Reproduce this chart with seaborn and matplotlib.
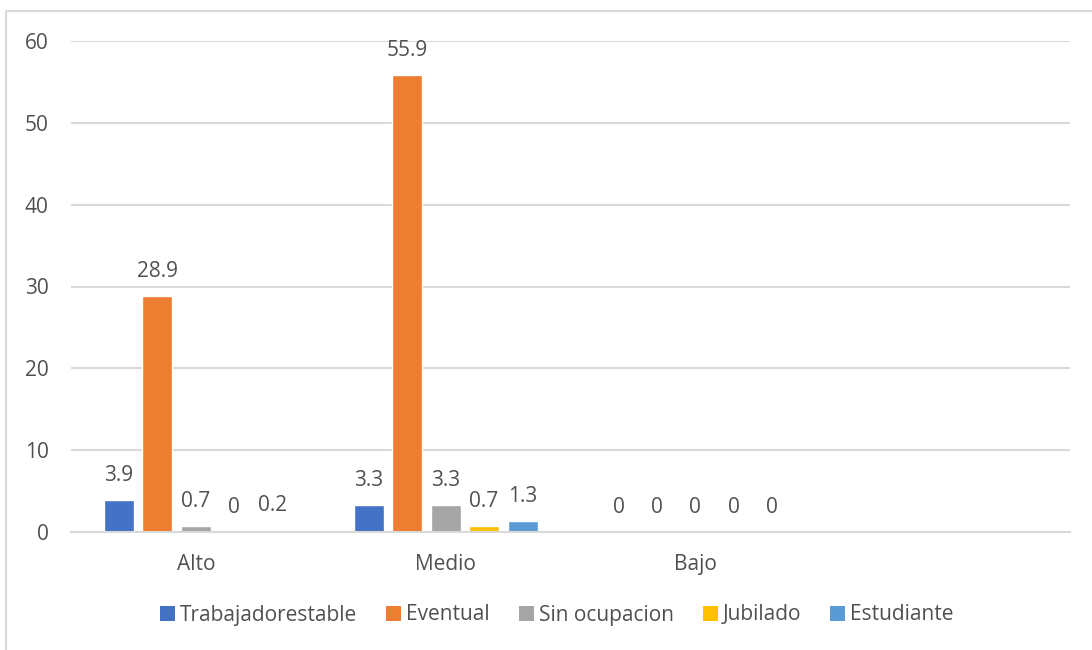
import matplotlib
matplotlib.use("Agg")
import matplotlib.pyplot as plt
from matplotlib.patches import Rectangle, Patch
import seaborn as sns
import pandas as pd

# Data
niveles = ["Alto", "Medio", "Bajo"]
ocupaciones = ["Trabajadorestable", "Eventual", "Sin ocupacion", "Jubilado", "Estudiante"]
trabajador_estable = [3.9, 3.3, 0]
eventual = [28.9, 55.9, 0]
sin_ocupacion = [0.7, 3.3, 0]
jubilado = [0, 0.7, 0]
estudiante = [0.2, 1.3, 0]
y_ticks = [0, 10, 20, 30, 40, 50, 60]

colores = ["#4472C4", "#ED7D31", "#A5A5A5", "#FFC000", "#5B9BD5"]

series = [trabajador_estable, eventual, sin_ocupacion, jubilado, estudiante]
rows = []
for occ, vals in zip(ocupaciones, series):
    for nivel, v in zip(niveles, vals):
        rows.append({"Nivel": nivel, "Ocupacion": occ, "Valor": v})
df = pd.DataFrame(rows)

sns.set_theme(style="white")
plt.rcParams["font.family"] = ["Open Sans", "DejaVu Sans"]
text_color = "#505050"
grid_color = "#D9D9D9"
fs = 15

fig = plt.figure(figsize=(10.92, 6.5), dpi=100)
ax = fig.add_axes([71 / 1092, 1 - 532 / 650, (1070 - 71) / 1092, (532 - 41) / 650])

sns.barplot(
    data=df, x="Nivel", y="Valor", hue="Ocupacion",
    order=niveles, hue_order=ocupaciones, palette=colores,
    width=0.77, gap=0.22, ax=ax, legend=False, errorbar=None,
    saturation=1,
)

for cont in ax.containers:
    ax.bar_label(cont, fmt="%g", padding=10, fontsize=fs, color=text_color)

ax.set_xlim(-0.5, 3.5)
ax.set_ylim(0, 60)
ax.set_yticks(y_ticks)
ax.yaxis.grid(True, color=grid_color, linewidth=1.5)
ax.set_axisbelow(True)
for s in ["top", "right", "left"]:
    ax.spines[s].set_visible(False)
ax.spines["bottom"].set_color(grid_color)
ax.spines["bottom"].set_linewidth(1.5)
ax.tick_params(axis="both", length=0, labelsize=fs, colors=text_color)
ax.tick_params(axis="y", pad=16)
ax.tick_params(axis="x", pad=16)
ax.set_xlabel("")
ax.set_ylabel("")

handles = [Patch(facecolor=c, edgecolor="none") for c in colores]
fig.legend(
    handles, ocupaciones, loc="center", bbox_to_anchor=(557 / 1092, 1 - 615 / 650),
    ncol=5, frameon=False, fontsize=fs, labelcolor=text_color,
    handlelength=0.7, handleheight=0.7, handletextpad=0.25, columnspacing=1.4,
)

# Chart frame
fig.patches.append(Rectangle((6 / 1092, -0.05), 1.2, 1.05 - 11 / 650,
                             transform=fig.transFigure, fill=False,
                             edgecolor=grid_color, linewidth=1.5))

fig.savefig("out.png", dpi=100)
